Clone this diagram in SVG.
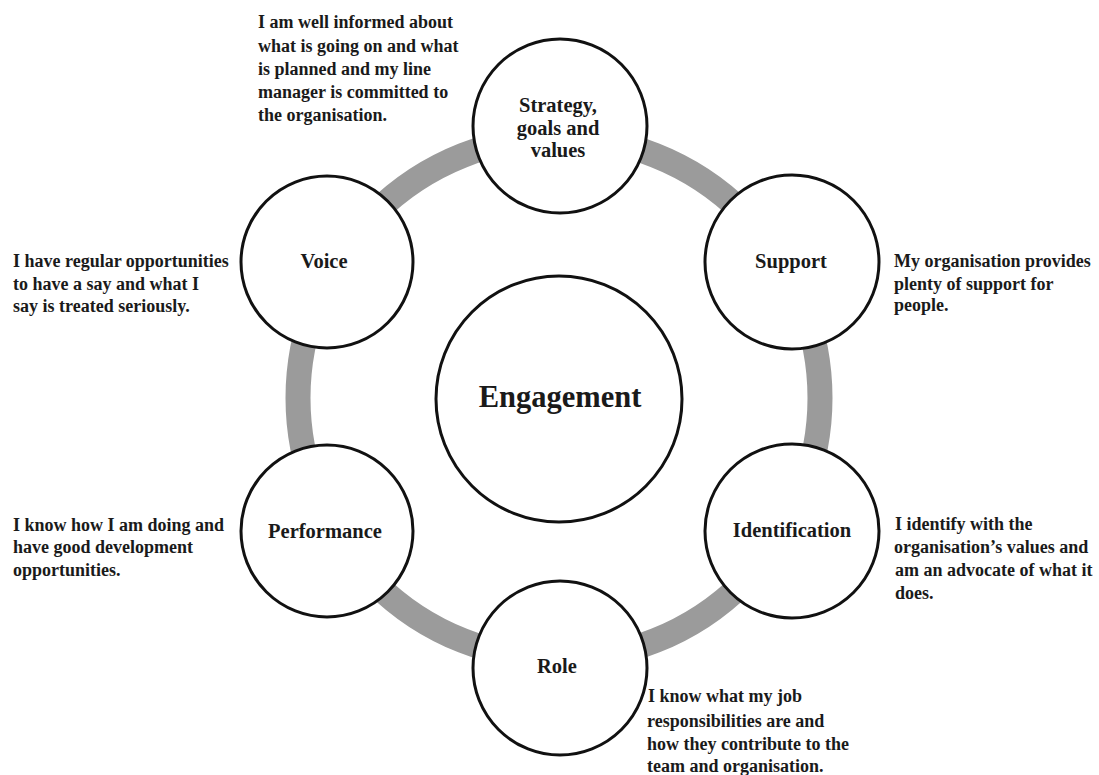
<svg xmlns="http://www.w3.org/2000/svg" width="1099" height="775" viewBox="0 0 1099 775">
<style>
.node{fill:#fff;stroke:#111;stroke-width:3}
.lbl{font-family:"Liberation Serif","Times New Roman",serif;font-weight:bold;font-size:20.5px;fill:#1a1a1a;text-anchor:middle}
.big{font-size:30.5px}
.desc{font-family:"Liberation Serif","Times New Roman",serif;font-weight:bold;font-size:18px;fill:#1a1a1a}
</style>
<rect width="1099" height="775" fill="#fff"/>
<g id="connectors">
<circle cx="559" cy="398" r="261" fill="none" stroke="#9b9b9b" stroke-width="25"/>
</g>
<g id="engagement">
<circle class="node" cx="559" cy="399" r="123"/>
<text class="lbl big" x="560" y="407">Engagement</text>
</g>
<g id="strategy">
<circle class="node" cx="560" cy="126" r="87"/>
<text class="lbl" x="558"><tspan x="558" y="112">Strategy,</tspan><tspan x="558" y="135">goals and</tspan><tspan x="558" y="157">values</tspan></text>
<text class="desc"><tspan x="258" y="28">I am well informed about</tspan><tspan x="258" y="52">what is going on and what</tspan><tspan x="258" y="75">is planned and my line</tspan><tspan x="258" y="98">manager is committed to</tspan><tspan x="258" y="121">the organisation.</tspan></text>
</g>
<g id="support">
<circle class="node" cx="792" cy="262" r="87"/>
<text class="lbl" x="791" y="268">Support</text>
<text class="desc"><tspan x="894" y="267">My organisation provides</tspan><tspan x="894" y="290">plenty of support for</tspan><tspan x="894" y="311">people.</tspan></text>
</g>
<g id="identification">
<circle class="node" cx="792" cy="531" r="87"/>
<text class="lbl" x="792" y="537">Identification</text>
<text class="desc"><tspan x="895" y="530">I identify with the</tspan><tspan x="894" y="553">organisation’s values and</tspan><tspan x="895" y="576">am an advocate of what it</tspan><tspan x="895" y="599">does.</tspan></text>
</g>
<g id="role">
<circle class="node" cx="560" cy="668" r="87"/>
<text class="lbl" x="557" y="673">Role</text>
<text class="desc"><tspan x="648" y="702">I know what my job</tspan><tspan x="647" y="727">responsibilities are and</tspan><tspan x="647" y="750">how they contribute to the</tspan><tspan x="647" y="772">team and organisation.</tspan></text>
</g>
<g id="performance">
<circle class="node" cx="327" cy="531" r="86"/>
<text class="lbl" x="325" y="538">Performance</text>
<text class="desc"><tspan x="13" y="531">I know how I am doing and</tspan><tspan x="13" y="553">have good development</tspan><tspan x="13" y="576">opportunities.</tspan></text>
</g>
<g id="voice">
<circle class="node" cx="327" cy="262" r="86"/>
<text class="lbl" x="324" y="268">Voice</text>
<text class="desc"><tspan x="13" y="267">I have regular opportunities</tspan><tspan x="13" y="290">to have a say and what I</tspan><tspan x="13" y="312">say is treated seriously.</tspan></text>
</g>
</svg>
